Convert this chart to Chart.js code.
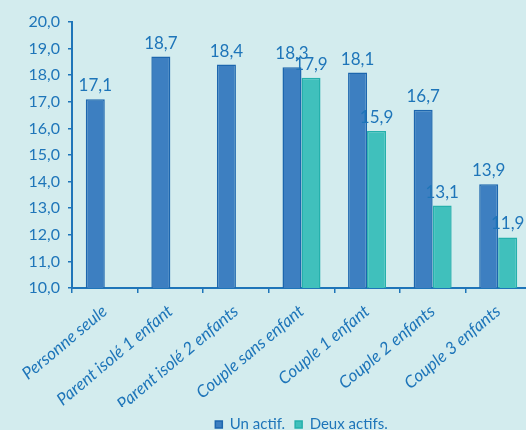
<!DOCTYPE html>
<html>
<head>
<meta charset="utf-8">
<script src="https://cdn.jsdelivr.net/npm/chart.js@4.4.0/dist/chart.umd.min.js"></script>
<style>
  html, body { margin: 0; padding: 0; background: #d3ecee; overflow: hidden; }
  #wrap { width: 526px; height: 430px; overflow: hidden; }
</style>
</head>
<body>
<div id="wrap"><canvas id="chart" width="545" height="442"></canvas></div>
<script>
// data
const categories = [
  "Personne seule",
  "Parent isolé 1 enfant",
  "Parent isolé 2 enfants",
  "Couple sans enfant",
  "Couple 1 enfant",
  "Couple 2 enfants",
  "Couple 3 enfants"
];
const seriesNames = ["Un actif.", "Deux actifs."];
const unActif    = [17.1, 18.7, 18.4, 18.3, 18.1, 16.7, 13.9];
const deuxActifs = [null, null, null, 17.9, 15.9, 13.1, 11.9];
const yMin = 10, yMax = 20, yStep = 1;

const TEXT = "#1e75b9";
const FONT = "Lato";
const fmt = v => v.toFixed(1).replace(".", ",");

// labels above each bar
const valueLabels = {
  id: "valueLabels",
  afterDatasetsDraw(chart) {
    const ctx = chart.ctx;
    ctx.save();
    ctx.fillStyle = TEXT;
    ctx.font = "17px " + FONT;
    ctx.textAlign = "center";
    ctx.textBaseline = "bottom";
    chart.data.datasets.forEach((ds, i) => {
      chart.getDatasetMeta(i).data.forEach((bar, j) => {
        const v = ds.data[j];
        if (v == null) return;
        ctx.fillText(fmt(v), bar.x, bar.y - 5);
      });
    });
    ctx.restore();
  }
};

new Chart(document.getElementById("chart"), {
  type: "bar",
  data: {
    labels: categories,
    datasets: [
      {
        label: seriesNames[0],
        data: unActif,
        backgroundColor: "#3d7fc1",
        borderColor: "#1c66ae",
        borderWidth: 1.5,
        barPercentage: 1,
        categoryPercentage: 0.58
      },
      {
        label: seriesNames[1],
        data: deuxActifs,
        backgroundColor: "#40c0bc",
        borderColor: "#25b0ac",
        borderWidth: 1.5,
        barPercentage: 1,
        categoryPercentage: 0.58
      }
    ]
  },
  options: {
    responsive: false,
    animation: false,
    layout: { padding: { top: 22, right: 14, left: 0, bottom: 0 } },
    plugins: {
      tooltip: { enabled: false },
      legend: {
        position: "bottom",
        fullSize: false,
        labels: {
          color: TEXT,
          font: { family: FONT, size: 15 },
          boxWidth: 7,
          boxHeight: 7,
          padding: 10
        }
      }
    },
    scales: {
      x: {
        afterFit: s => { s.height = 119; },
        grid: {
          offset: true,
          drawOnChartArea: false,
          drawTicks: true,
          tickLength: 5,
          color: TEXT,
          lineWidth: 1.5
        },
        border: { color: TEXT, width: 2 },
        ticks: {
          color: TEXT,
          font: { family: FONT, size: 17, style: "italic" },
          maxRotation: 40,
          minRotation: 40,
          autoSkip: false,
          padding: 8
        }
      },
      y: {
        min: yMin,
        max: yMax,
        afterFit: s => { s.width = 72; },
        grid: {
          drawOnChartArea: false,
          drawTicks: true,
          tickLength: 4,
          color: TEXT,
          lineWidth: 1.5
        },
        border: { color: TEXT, width: 2 },
        ticks: {
          stepSize: yStep,
          color: TEXT,
          font: { family: FONT, size: 16 },
          padding: 8,
          callback: v => fmt(v)
        }
      }
    }
  },
  plugins: [valueLabels]
});
</script>
</body>
</html>
